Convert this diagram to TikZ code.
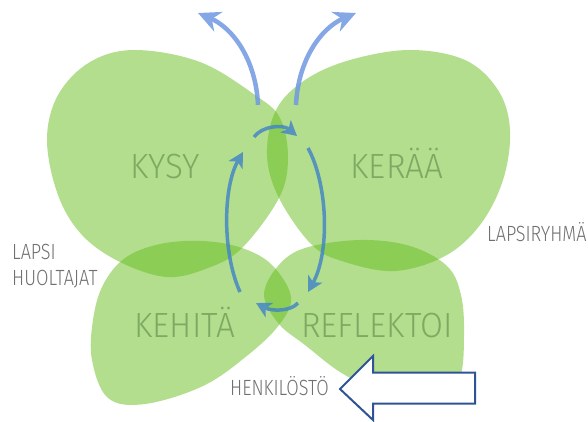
\documentclass[tikz,border=0pt]{standalone}
\usepackage{fontspec}
\setmainfont{Fira Sans}
\newfontfamily\thinfont{Fira Sans Light}[FakeStretch=0.95]
\newfontfamily\sidefont{Fira Sans Light}[FakeStretch=0.82]
\usepackage{xcolor}
\usepackage{tikz}
\usetikzlibrary{arrows.meta,positioning}
\definecolor{wingGreen}{RGB}{101,189,29}
\definecolor{wordGreen}{RGB}{125,170,98}
\definecolor{sideGray}{RGB}{112,112,112}
\definecolor{outBlue}{RGB}{112,152,225}
\definecolor{cycleBlue}{RGB}{70,135,195}
\definecolor{staffBlue}{RGB}{47,84,150}

\begin{document}
\begin{tikzpicture}[
    x=1pt, y=-1pt,
    wing/.style={fill=wingGreen, fill opacity=0.5},
    word/.style={text=wordGreen, font=\thinfont\fontsize{35}{35}\selectfont, anchor=base},
    side/.style={text=sideGray, font=\sidefont\fontsize{22}{22}\selectfont, inner sep=0pt},
    outarr/.style={-{Stealth[length=22pt, width=21pt, inset=7pt]}, line width=4.5pt, outBlue},
    cyclearr/.style={-{Stealth[length=15pt, width=16pt, inset=4pt]}, line width=3.5pt, cycleBlue},
    staffarr/.style={draw=staffBlue, line width=2pt, fill=white, line join=miter},
]
    \useasboundingbox (0,0) rectangle (588,421);

    % the four wings
    \path[wing] plot[smooth cycle, tension=0.6] coordinates {
        (47,140) (58,95) (90,62) (135,50) (200,62) (255,95) (280,118) (288,158)
        (279,198) (242,248) (208,268) (167,277) (120,262) (82,235) (58,195)};
    \path[wing] plot[smooth cycle, tension=0.6] coordinates {
        (276,110) (305,80) (350,60) (410,50) (465,60) (498,90) (510,130) (503,180)
        (480,225) (445,256) (395,271) (345,262) (312,245) (279,198) (267,155)};
    \path[wing] plot[smooth cycle, tension=0.6] coordinates {
        (103,285) (125,258) (160,244) (203,241) (242,248) (272,265) (291,297)
        (279,325) (248,355) (203,386) (145,404) (108,398) (92,360) (93,320)};
    \path[wing] plot[smooth cycle, tension=0.6] coordinates {
        (278,266) (305,248) (360,240) (410,246) (447,266) (461,295) (464,335)
        (460,377) (440,395) (410,396) (375,389) (340,372) (305,345) (279,324) (264,295)};

    % words in the wings
    \node[word] (kysy) at (165,178) {KYSY};
    \node[word] (keraa) at (397,178) {KERÄÄ};
    \node[word] (kehita) at (185,337) {KEHITÄ};
    \node[word] (reflektoi) at (377,337) {REFLEKTOI};

    % outer labels
    \node[side, anchor=base west] (lapsi) at (12,259) {LAPSI};
    \node[side, below right=11pt and 0pt of lapsi.south west] (huoltajat) {HUOLTAJAT};
    \node[side, anchor=base west] (ryhma) at (487,241) {LAPSIRYHMÄ};
    \node[side, anchor=base west] (henkilosto) at (230,395) {HENKILÖSTÖ};

    % arrows out of the top
    \coordinate (outl-s) at (258,105);
    \coordinate (outl-e) at (198,13);
    \coordinate (outr-s) at (296,105);
    \coordinate (outr-e) at (356,13);
    \begin{scope}[transparency group, opacity=0.85]
        \draw[outarr] (outl-s) .. controls +(-2,-45) and +(35,15) .. (outl-e);
        \draw[outarr] (outr-s) .. controls +(2,-45) and +(-35,15) .. (outr-e);
    \end{scope}

    % the cycle in the middle
    \coordinate (cl-s) at (240,292);
    \coordinate (cl-e) at (243,152);
    \coordinate (ct-s) at (254,137);
    \coordinate (ct-e) at (297,136);
    \coordinate (cr-s) at (308,148);
    \coordinate (cr-e) at (308,292);
    \coordinate (cb-s) at (298,303);
    \coordinate (cb-e) at (256,303);
    \begin{scope}[transparency group, opacity=0.85]
        \draw[cyclearr] (cl-s) .. controls +(-18,-40) and +(-20,35) .. (cl-e);
        \draw[cyclearr] (ct-s) .. controls +(8,-11) and +(-14,-12) .. (ct-e);
        \draw[cyclearr] (cr-s) .. controls +(20,37) and +(22,-40) .. (cr-e);
        \draw[cyclearr] (cb-s) .. controls +(-8,9) and +(15,8) .. (cb-e);
    \end{scope}

    % arrow pointing at the staff
    \coordinate (htip) at (340,389);
    \draw[staffarr] (htip) -- ++(33,-33) -- ++(0,16.5) -- ++(102,0) -- ++(0,31)
        -- ++(-102,0) -- ++(0,16.5) -- cycle;
\end{tikzpicture}
\end{document}
